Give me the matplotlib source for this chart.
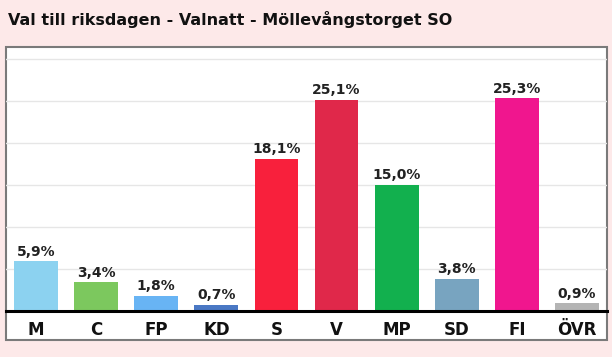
import matplotlib.pyplot as plt
from matplotlib.patches import Rectangle

partier = ['M', 'C', 'FP', 'KD', 'S', 'V', 'MP', 'SD', 'FI', 'ÖVR']
andel = [5.9, 3.4, 1.8, 0.7, 18.1, 25.1, 15.0, 3.8, 25.3, 0.9]
farger = ['#8cd2f0', '#7cc85e', '#68b4f4', '#4a78c4', '#f8203c',
          '#e0284a', '#12b04e', '#78a4c0', '#f0168e', '#b4b4b4']
titel = 'Val till riksdagen - Valnatt - Möllevångstorget SO'

W, H = 612, 357
fig = plt.figure(figsize=(W / 100, H / 100), dpi=100)
fig.patch.set_facecolor('#fde9e9')

# vit ram runt diagrammet
fig.patches.append(Rectangle((6 / W, 1 - 340 / H), 601 / W, 293 / H,
                             transform=fig.transFigure, facecolor='white',
                             edgecolor='#7a7a7a', linewidth=1.5, zorder=-1))

fig.text(8 / W, 1 - 20 / H, titel, fontsize=11.5, fontweight='bold',
         color='#111111', ha='left', va='center')

ax = fig.add_axes([6 / W, 1 - 311 / H, 601 / W, 264 / H])
ax.patch.set_alpha(0)
staplar = ax.bar(range(len(partier)), andel, width=0.73, color=farger, zorder=2)
ax.set_xlim(-0.5, len(partier) - 0.5)
ax.set_ylim(0, 264 / 8.4)

for y in range(5, 35, 5):
    ax.axhline(y, color='#e6e6e6', lw=1, zorder=1)

etiketter = [f'{v:.1f}%'.replace('.', ',') for v in andel]
ax.bar_label(staplar, labels=etiketter, padding=2, fontsize=10,
             fontweight='bold', color='#222222')

ax.set_xticks(range(len(partier)))
ax.set_xticklabels(partier, fontsize=12, fontweight='bold', color='#111111')
ax.tick_params(axis='x', length=0, pad=7)
ax.set_yticks([])
for side in ['top', 'left', 'right']:
    ax.spines[side].set_visible(False)
ax.spines['bottom'].set_linewidth(2.2)
ax.spines['bottom'].set_color('black')

fig.savefig('out.png', dpi=100)
